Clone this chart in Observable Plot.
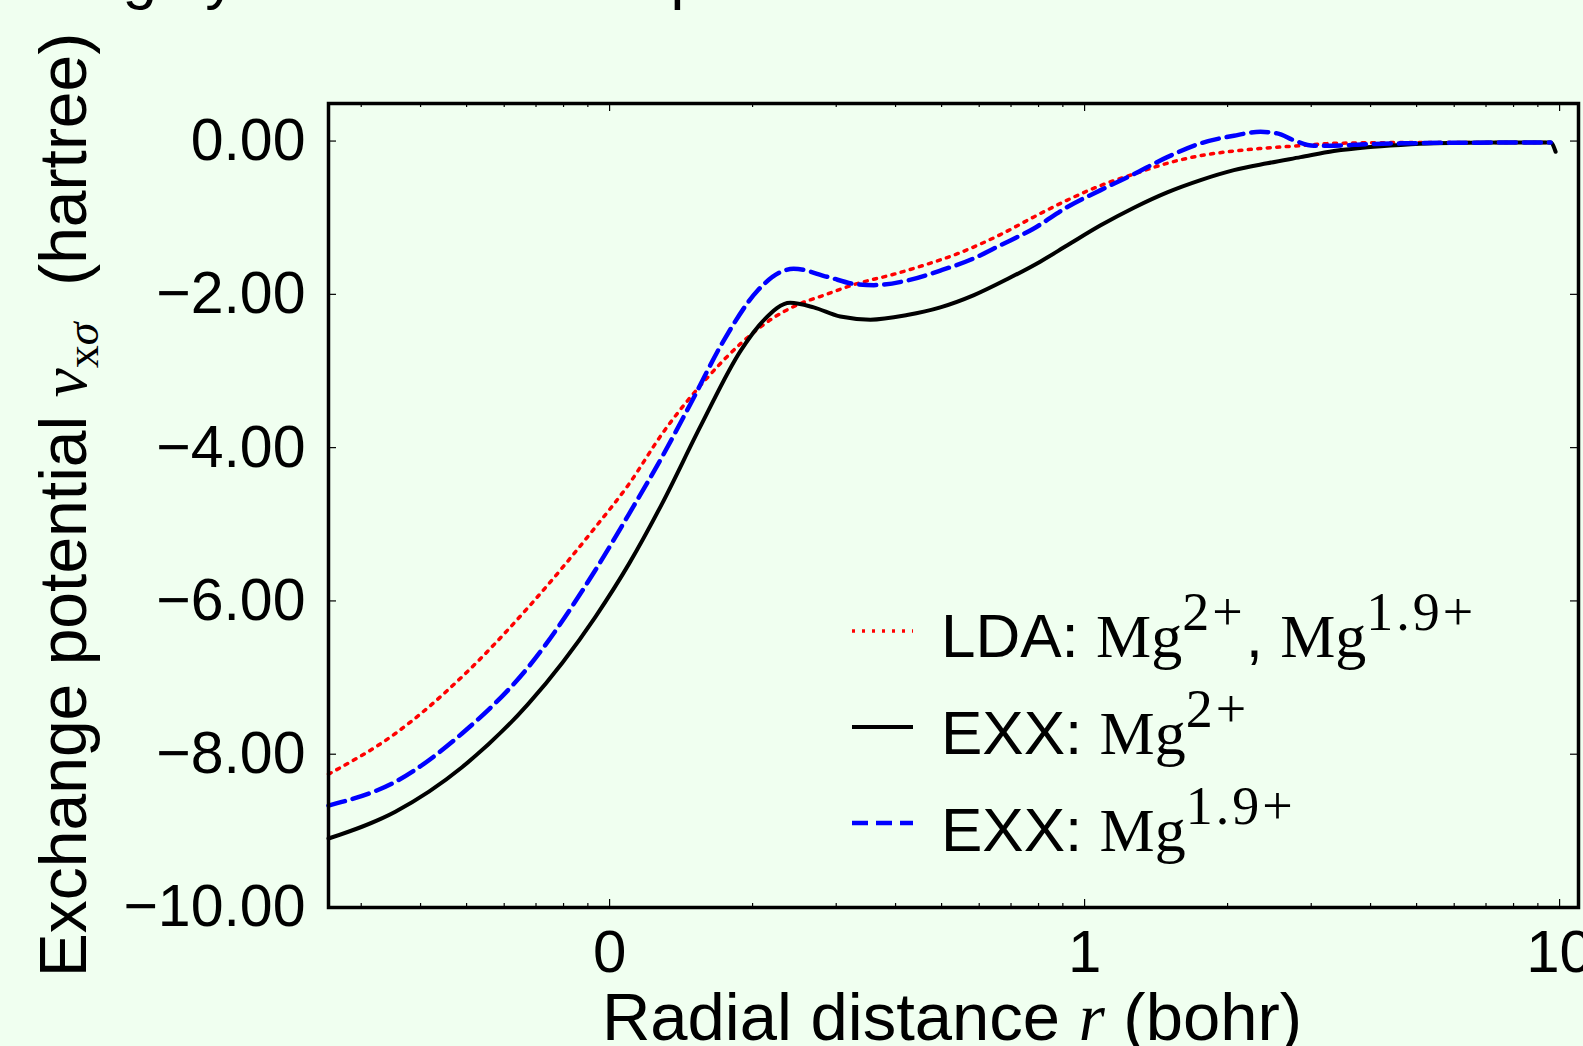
<!DOCTYPE html>
<html><head><meta charset="utf-8">
<script src="https://cdn.jsdelivr.net/npm/d3@7"></script>
<script src="https://cdn.jsdelivr.net/npm/@observablehq/plot@0.6"></script>
<style>html,body{margin:0;padding:0;background:#f0fff0;} #chart svg{display:block}</style>
</head><body><div id="chart"></div>
<script>
// LDA: Mg2+, Mg1.9+
const rLDA = [0.0256,0.0354,0.0489,0.0675,0.0933,0.110,0.129,0.161,0.189,0.222,0.248,0.283,0.332,0.390,0.459,0.540,0.665,0.782,0.920,1.081,1.270,1.493,1.755,2.062,2.424,2.849,3.348,4.627,9.574];
const vLDA = [-8.26,-7.73,-6.99,-6.08,-5.04,-4.47,-3.82,-3.08,-2.64,-2.30,-2.14,-2.01,-1.86,-1.75,-1.62,-1.47,-1.22,-0.99,-0.77,-0.58,-0.43,-0.29,-0.19,-0.13,-0.09,-0.06,-0.03,-0.02,-0.02];
// EXX: Mg2+
const rEXX2 = [0.0256,0.0354,0.0489,0.0675,0.0933,0.110,0.129,0.156,0.189,0.211,0.240,0.269,0.306,0.354,0.423,0.497,0.585,0.688,0.808,0.920,1.081,1.270,1.493,1.755,2.062,2.424,2.849,3.348,3.937,4.627,5.438,7.512,9.574,9.809];
const vEXX2 = [-9.10,-8.75,-8.17,-7.34,-6.21,-5.51,-4.73,-3.70,-2.73,-2.34,-2.11,-2.17,-2.29,-2.33,-2.27,-2.17,-2.01,-1.80,-1.57,-1.36,-1.10,-0.87,-0.67,-0.51,-0.38,-0.29,-0.21,-0.13,-0.08,-0.05,-0.03,-0.02,-0.02,-0.14];
// EXX: Mg1.9+
const rEXX19 = [0.0256,0.0354,0.0489,0.0675,0.0933,0.110,0.129,0.148,0.174,0.205,0.229,0.244,0.287,0.332,0.360,0.423,0.497,0.585,0.665,0.782,0.920,1.081,1.270,1.493,1.755,2.062,2.347,2.545,2.758,3.039,3.348,3.937,4.627,7.512,9.574];
const vEXX19 = [-8.67,-8.36,-7.73,-6.86,-5.60,-4.86,-4.12,-3.43,-2.60,-1.95,-1.71,-1.665,-1.77,-1.87,-1.88,-1.82,-1.69,-1.53,-1.36,-1.14,-0.86,-0.64,-0.43,-0.21,-0.03,0.07,0.12,0.10,0.01,-0.06,-0.06,-0.04,-0.03,-0.02,-0.02];

const yTicks = [0,-2,-4,-6,-8,-10];
const xMajorTicks = [0.1, 1, 10];
const xTickLabels = ["0", "1", "10"];
const xMinorTicks = [0.03,0.04,0.05,0.06,0.07,0.08,0.09,0.2,0.3,0.4,0.5,0.6,0.7,0.8,0.9,2,3,4,5,6,7,8,9];
const titleText = "Highly ionized atoms: potential";

const W = 1583, H = 1046, mL = 328, mR = 5, mT = 103, mB = 139;
const pw = W - mL - mR, ph = H - mT - mB;
const rows = (r, v) => r.map((d, i) => ({r: d, v: v[i]}));
const sans = "'Liberation Sans', Arial, sans-serif";
const serif = "'Liberation Serif', 'DejaVu Serif', serif";

const plot = Plot.plot({
  width: W, height: H,
  marginLeft: mL, marginRight: mR, marginTop: mT, marginBottom: mB,
  style: {background: "#f0fff0", fontFamily: sans, color: "black", overflow: "hidden"},
  x: {type: "log", domain: [0.0256, 10.96]},
  y: {domain: [-10, 0.49]},
  marks: [
    Plot.line(rows(rLDA, vLDA), {x: "r", y: "v", stroke: "#ff0000", strokeWidth: 3.5, strokeDasharray: "3,6.5", curve: "monotone-x"}),
    Plot.line(rows(rEXX2, vEXX2), {x: "r", y: "v", stroke: "#000000", strokeWidth: 4, curve: "monotone-x"}),
    Plot.line(rows(rEXX19, vEXX19), {x: "r", y: "v", stroke: "#0000ff", strokeWidth: 4.5, strokeDasharray: "17,8", curve: "monotone-x"}),
    Plot.ruleY(yTicks, {y: d => d, insetRight: pw - 8, strokeWidth: 1.2}),
    Plot.ruleY(yTicks, {y: d => d, insetLeft: pw - 8, strokeWidth: 1.2}),
    Plot.ruleX(xMajorTicks, {x: d => d, insetTop: ph - 8, strokeWidth: 1.2}),
    Plot.ruleX(xMajorTicks, {x: d => d, insetBottom: ph - 8, strokeWidth: 1.2}),
    Plot.ruleX(xMinorTicks, {x: d => d, insetTop: ph - 4, strokeWidth: 1.2}),
    Plot.ruleX(xMinorTicks, {x: d => d, insetBottom: ph - 4, strokeWidth: 1.2}),
    Plot.axisY(yTicks, {tickSize: 0, tickPadding: 23, tickFormat: d => d3.format(".2f")(d), fontSize: 59, label: null}),
    Plot.axisX(xMajorTicks, {tickSize: 0, tickPadding: 22, tickFormat: d => xTickLabels[xMajorTicks.indexOf(d)], fontSize: 60, label: null}),
    Plot.frame({strokeWidth: 3.5, stroke: "black"})
  ]
});
document.getElementById("chart").appendChild(plot);

const svg = d3.select(plot);
// clipped title remnants
svg.append("text").attr("x", 64).attr("y", -3).attr("text-anchor", "start").attr("font-size", 62)
  .attr("font-family", sans).attr("fill", "black").text(titleText);

// Y label
const yl = svg.append("text").attr("transform", "translate(86,505) rotate(-90)")
  .attr("text-anchor", "middle").attr("font-size", 66).attr("font-family", sans).attr("fill", "black");
yl.append("tspan").text("Exchange potential ");
yl.append("tspan").attr("font-family", serif).attr("font-style", "italic").text("v");
yl.append("tspan").attr("font-family", serif).attr("font-size", 46).attr("dy", 12).text("x");
yl.append("tspan").attr("font-family", serif).attr("font-style", "italic").attr("font-size", 46).text("σ");
yl.append("tspan").attr("dy", -12).text("  (hartree)");

// X label
const xl = svg.append("text").attr("x", 952).attr("y", 1040)
  .attr("text-anchor", "middle").attr("font-size", 67).attr("font-family", sans).attr("fill", "black");
xl.append("tspan").text("Radial distance ");
xl.append("tspan").attr("font-family", serif).attr("font-style", "italic").text("r");
xl.append("tspan").text(" (bohr)");

// Legend
const legend = [
  {stroke: "#ff0000", width: 3.5, dash: "3,7", parts: [["LDA: ", 0], ["Mg", 1], ["2+", 2], [", ", 0], ["Mg", 1], ["1.9+", 2]]},
  {stroke: "#000000", width: 4, dash: null, parts: [["EXX: ", 0], ["Mg", 1], ["2+", 2]]},
  {stroke: "#0000ff", width: 4.5, dash: "16,8", parts: [["EXX: ", 0], ["Mg", 1], ["1.9+", 2]]}
];
const lineY = [631, 727, 823], baseY = [657, 754, 851];
legend.forEach((L, i) => {
  const ln = svg.append("line").attr("x1", 852).attr("x2", 913).attr("y1", lineY[i]).attr("y2", lineY[i])
    .attr("stroke", L.stroke).attr("stroke-width", L.width);
  if (L.dash) ln.attr("stroke-dasharray", L.dash);
  const t = svg.append("text").attr("x", 941).attr("y", baseY[i]).attr("text-anchor", "start")
    .attr("font-size", 62).attr("font-family", sans).attr("fill", "black");
  let raised = false;
  L.parts.forEach(([s, k]) => {
    const sp = t.append("tspan").text(s);
    if (k === 1) sp.attr("font-family", serif).attr("letter-spacing", 0);
    if (k === 2) { sp.attr("font-family", serif).attr("font-size", 54).attr("letter-spacing", 3).attr("dy", -27); raised = true; }
    else if (raised) { sp.attr("dy", 27); raised = false; }
  });
});
</script>
</body></html>
